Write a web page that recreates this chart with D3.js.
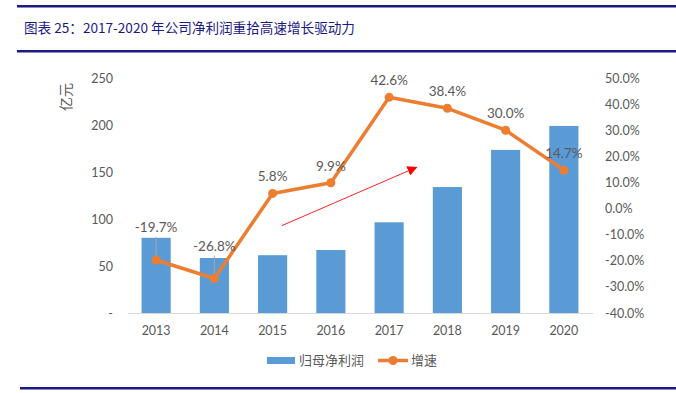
<!doctype html>
<html>
<head>
<meta charset="utf-8">
<script src="https://cdn.jsdelivr.net/npm/d3@7/dist/d3.min.js"></script>
<style>
	body{ margin: 0; background: #fff; }
	svg text{ font-family: Lato, "Noto Sans CJK SC", sans-serif; }
	.cjk{ font-family: "Noto Sans CJK SC", sans-serif; }
</style>
</head>
<body>
<svg id="chart" width="676" height="393"></svg>
<script>
// data
var years = ["2013", "2014", "2015", "2016", "2017", "2018", "2019", "2020"];
var profit = [80, 58.5, 61.5, 67, 96.5, 134, 173.5, 199];        // 归母净利润, 亿元
var growth = [-19.7, -26.8, 5.8, 9.9, 42.6, 38.4, 30.0, 14.7];   // 增速, %
var leftTicks = [0, 50, 100, 150, 200, 250];
var rightTicks = [-40, -30, -20, -10, 0, 10, 20, 30, 40, 50];
var titleText = "图表 25：2017-2020 年公司净利润重拾高速增长驱动力";

var blue = "#5b9bd5", orange = "#ed7d31", navy = "#1b1b86", grey = "#595959";

// plain hyphen for negatives, like the Excel original
var pct = d3.formatLocale({decimal: ".", thousands: ",", grouping: [3], currency: ["", ""], minus: "-"}).format(".1f");

var svg = d3.select("#chart");

// frame lines + title
svg.append("rect").attr("x", 17).attr("y", 5).attr("width", 659).attr("height", 2.5).attr("fill", navy);
svg.append("rect").attr("x", 17).attr("y", 50).attr("width", 659).attr("height", 2.5).attr("fill", navy);
svg.append("rect").attr("x", 20).attr("y", 387).attr("width", 656).attr("height", 2.5).attr("fill", navy);
svg.append("text").attr("class", "cjk")
	.attr("x", 24).attr("y", 33)
	.attr("font-size", 13.6).attr("fill", navy)
	.text(titleText);

var x = d3.scaleBand().domain(years).range([127, 593]).paddingInner(0.5).paddingOuter(0.25);
var yL = d3.scaleLinear().domain([0, 250]).range([313, 78]);
var yR = d3.scaleLinear().domain([-40, 50]).range([313, 78]);
var cx = function(i){ return x(years[i]) + x.bandwidth() / 2; };

// left axis
var left = svg.append("g").attr("transform", "translate(113,0)")
	.call(d3.axisLeft(yL).tickValues(leftTicks).tickSize(0).tickPadding(0)
		.tickFormat(function(d){ return d === 0 ? "-" : d; }));
left.select(".domain").remove();
left.selectAll("text").attr("font-size", 12.5).attr("fill", grey).attr("font-family", "Lato");

// right axis
var right = svg.append("g").attr("transform", "translate(605,0)")
	.call(d3.axisRight(yR).tickValues(rightTicks).tickSize(0).tickPadding(0)
		.tickFormat(function(d){ return pct(d) + "%"; }));
right.select(".domain").remove();
right.selectAll("text").attr("font-size", 12.5).attr("fill", grey).attr("font-family", "Lato");

// y label
svg.append("text").attr("class", "cjk")
	.attr("transform", "translate(71,97) rotate(-90)")
	.attr("text-anchor", "middle").attr("font-size", 14).attr("fill", grey)
	.text("亿元");

// bars
svg.selectAll(".bar").data(profit).enter().append("rect")
	.attr("class", "bar")
	.attr("x", function(d, i){ return x(years[i]); })
	.attr("width", x.bandwidth())
	.attr("y", function(d){ return yL(d); })
	.attr("height", function(d){ return yL(0) - yL(d); })
	.attr("fill", blue);

// x axis
var bottom = svg.append("g").attr("transform", "translate(0," + yL(0) + ")")
	.call(d3.axisBottom(x).tickSize(0).tickPadding(13));
bottom.select(".domain").attr("stroke", "#d9d9d9").attr("d", "M128,0.5H593");
bottom.selectAll("text").attr("font-size", 12.5).attr("fill", grey).attr("font-family", "Lato");

// red arrow annotation (placed in data terms)
svg.append("defs").append("marker")
	.attr("id", "head").attr("viewBox", "0 0 10 10")
	.attr("refX", 9).attr("refY", 5)
	.attr("markerWidth", 10).attr("markerHeight", 10)
	.attr("markerUnits", "userSpaceOnUse")
	.attr("orient", "auto")
	.append("path").attr("d", "M0,0L10,5L0,10Z").attr("fill", "#ff0000");
var arrowFrom = {i: 2, off: 0.16, v: 93}, arrowTo = {i: 4, off: 0.47, v: 155};
svg.append("line")
	.attr("x1", cx(arrowFrom.i) + arrowFrom.off * x.step())
	.attr("y1", yL(arrowFrom.v))
	.attr("x2", cx(arrowTo.i) + arrowTo.off * x.step())
	.attr("y2", yL(arrowTo.v))
	.attr("stroke", "#ff2020").attr("stroke-width", 1)
	.attr("marker-end", "url(#head)");

// leader lines for the two negative labels
svg.selectAll(".leader").data(growth.slice(0, 2)).enter().append("line")
	.attr("x1", function(d, i){ return cx(i); })
	.attr("x2", function(d, i){ return cx(i); })
	.attr("y1", function(d){ return yR(d) - 23; })
	.attr("y2", function(d){ return yR(d) - 3; })
	.attr("stroke", "#a6a6a6").attr("stroke-width", 1);

// growth line
var line = d3.line().x(function(d, i){ return cx(i); }).y(function(d){ return yR(d); });
svg.append("path").datum(growth)
	.attr("d", line)
	.attr("fill", "none").attr("stroke", orange)
	.attr("stroke-width", 3.5).attr("stroke-linejoin", "round");
svg.selectAll(".dot").data(growth).enter().append("circle")
	.attr("cx", function(d, i){ return cx(i); })
	.attr("cy", function(d){ return yR(d); })
	.attr("r", 4.5).attr("fill", orange);

// data labels
svg.selectAll(".lbl").data(growth).enter().append("text")
	.attr("x", function(d, i){ return cx(i); })
	.attr("y", function(d, i){ return yR(d) - (i < 2 ? 28 : 12); })
	.attr("text-anchor", "middle").attr("font-size", 13.5).attr("fill", grey)
	.text(function(d){ return pct(d) + "%"; });

// legend
var lg = svg.append("g");
lg.append("rect").attr("x", 267).attr("y", 357).attr("width", 28).attr("height", 7).attr("fill", blue);
lg.append("text").attr("class", "cjk").attr("x", 299).attr("y", 365)
	.attr("font-size", 13).attr("fill", grey).text("归母净利润");
lg.append("line").attr("x1", 378).attr("x2", 408).attr("y1", 360.5).attr("y2", 360.5)
	.attr("stroke", orange).attr("stroke-width", 3.5);
lg.append("circle").attr("cx", 393).attr("cy", 360.5).attr("r", 4.5).attr("fill", orange);
lg.append("text").attr("class", "cjk").attr("x", 411).attr("y", 365)
	.attr("font-size", 13).attr("fill", grey).text("增速");
</script>
</body>
</html>
